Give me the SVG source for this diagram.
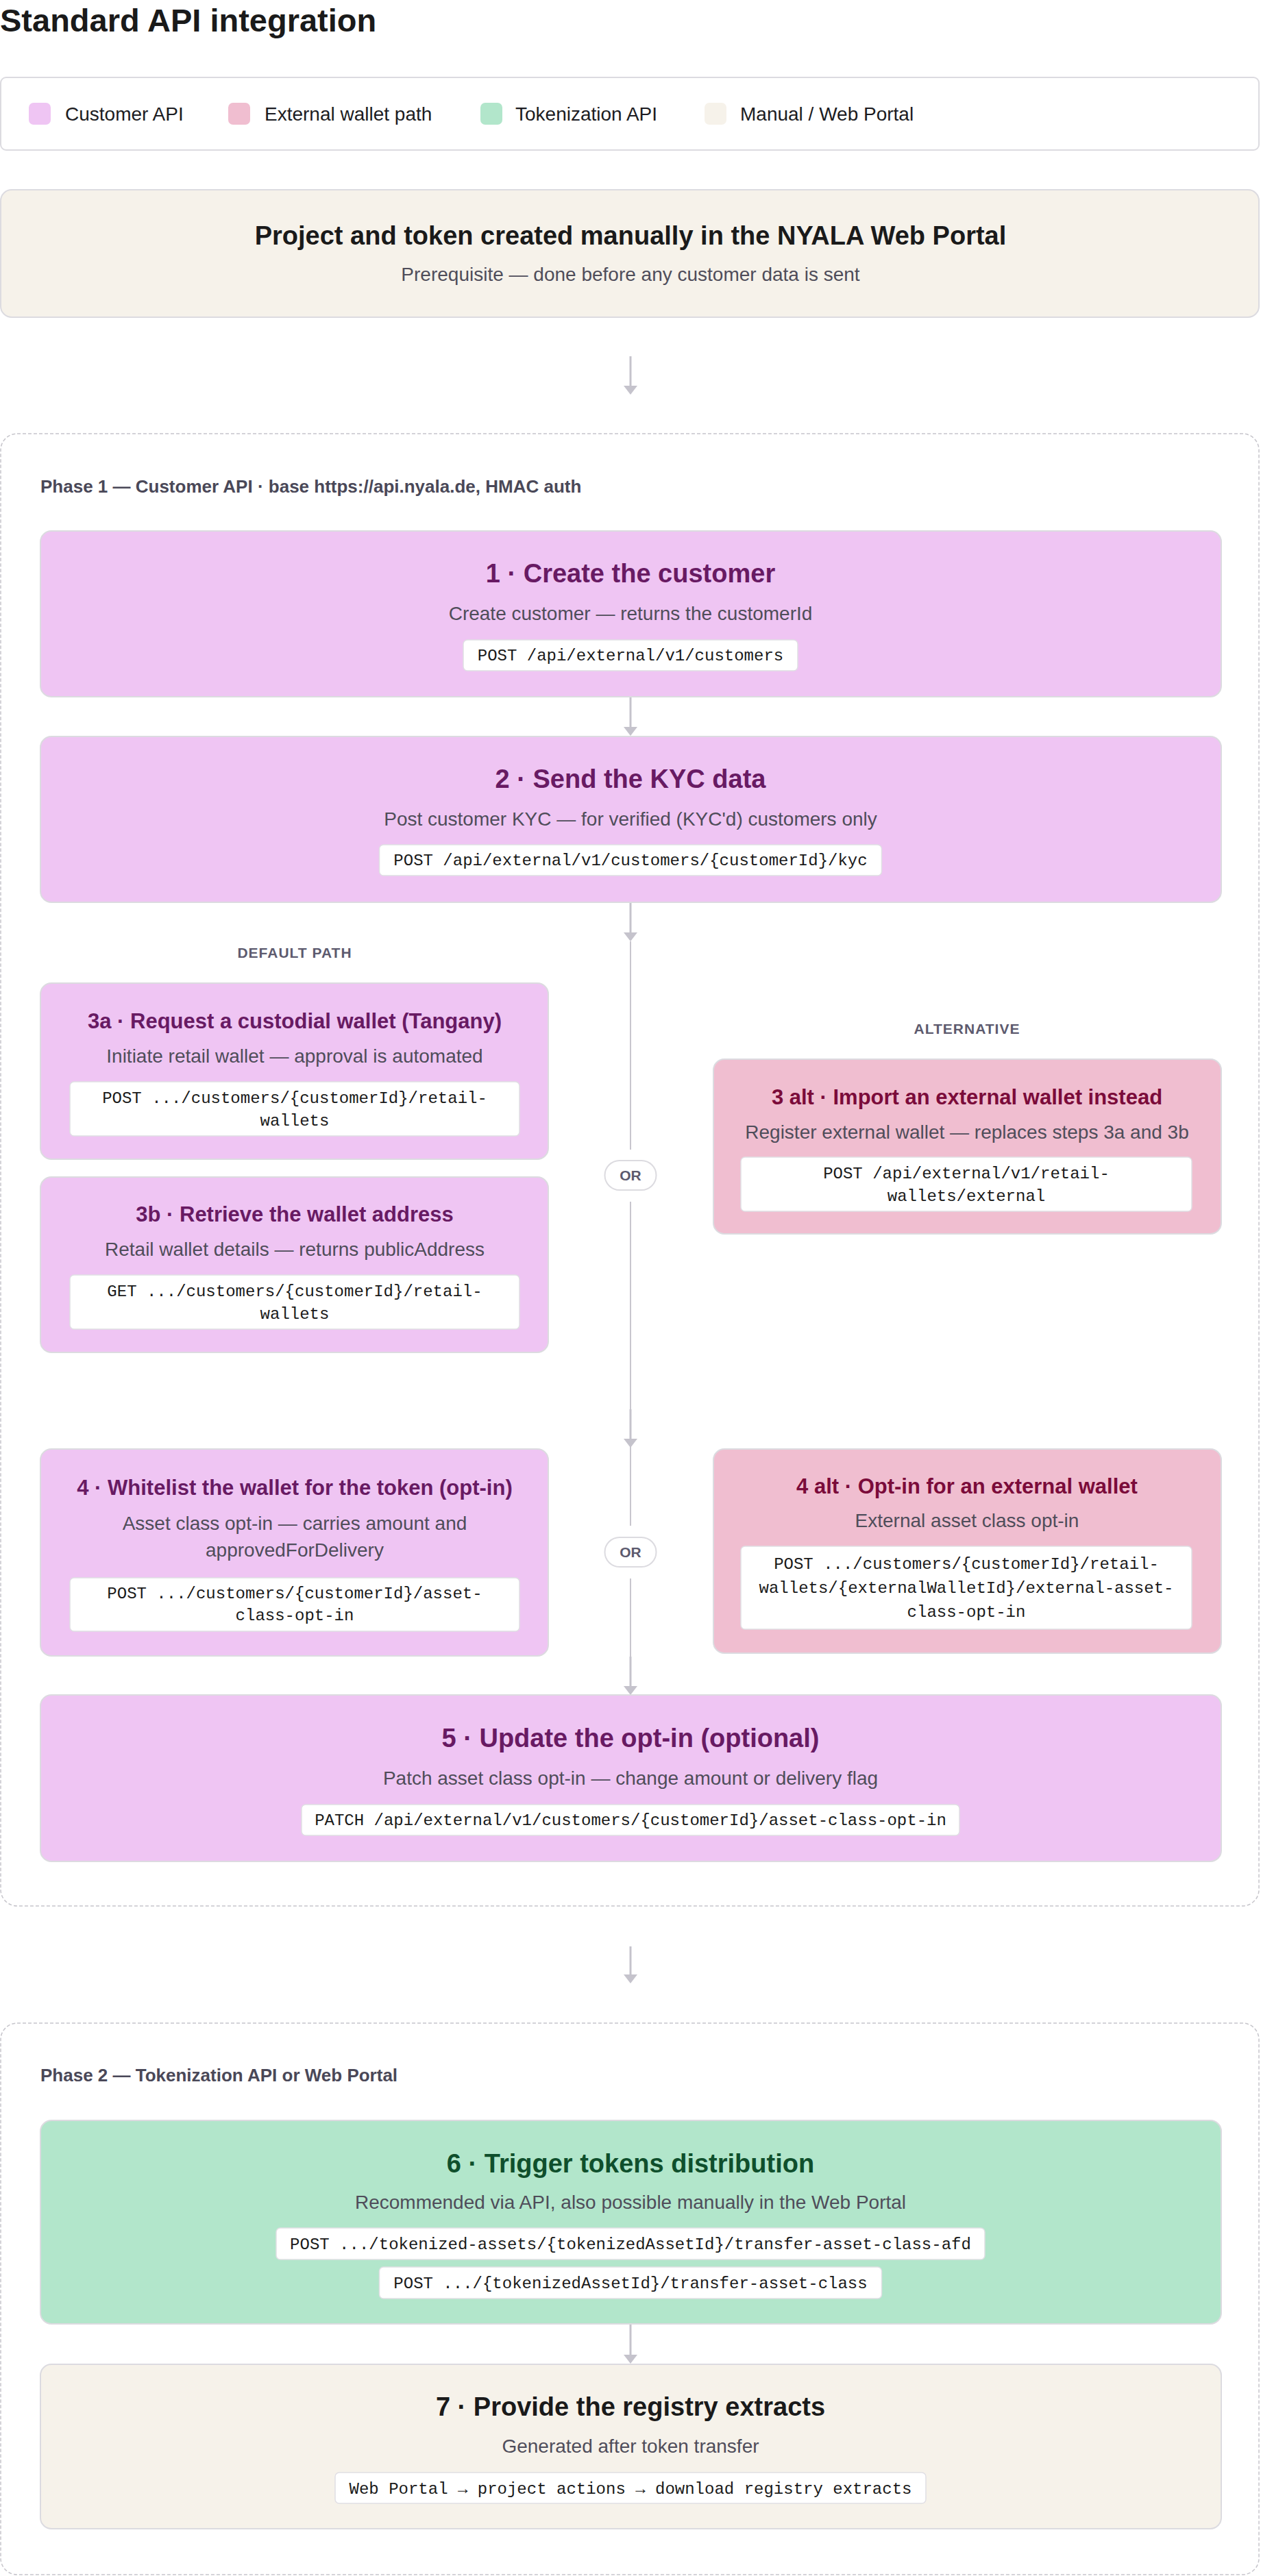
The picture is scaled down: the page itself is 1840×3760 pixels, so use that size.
<svg xmlns="http://www.w3.org/2000/svg" width="1840" height="3760" viewBox="0 0 1840 3760">
<defs>
<style>
text{font-family:"Liberation Sans",Arial,sans-serif}
.h1{font-size:47px;font-weight:700;fill:#1a1a1a}
.leg{font-size:28px;fill:#1c1c22}
.box{stroke:#dcdbe0;stroke-width:2}
.cust{fill:#efc5f3}
.ext{fill:#f0bed0}
.tok{fill:#b2e6cb}
.man{fill:#f6f2ea}
.tb{font-size:38px;font-weight:700;text-anchor:middle}
.ts{font-size:31px;font-weight:700;text-anchor:middle}
.tc{fill:#681a63}
.te{fill:#7b0b3a}
.tg{fill:#0f4f2c}
.tm{fill:#1a1a1a}
.sub{font-size:28px;fill:#4f4d5a;text-anchor:middle}
.code{fill:#ffffff;stroke:#e0dfe4;stroke-width:1.5}
.mono{font-family:"Liberation Mono","DejaVu Sans Mono",monospace;font-size:24px;font-weight:400;fill:#1a1a1a;text-anchor:middle}
.phase{fill:none;stroke:#c6c5cb;stroke-width:1.5;stroke-dasharray:5 3}
.plabel{font-size:26px;font-weight:700;fill:#4a4858}
.cap{font-size:21px;font-weight:700;fill:#5c5a6e;text-anchor:middle;letter-spacing:1px}
.arrow{stroke:#c5c3cc;stroke-width:3;fill:none}
.div{stroke:#c8c6ce;stroke-width:2;fill:none}
.pill{fill:#ffffff;stroke:#dcdbe0;stroke-width:2}
.or{font-size:21px;font-weight:700;fill:#5c5a6e;text-anchor:middle}
</style>
<marker id="ah" markerUnits="userSpaceOnUse" markerWidth="13" markerHeight="20" refX="0" refY="10" orient="auto" viewBox="0 0 13 20">
<path d="M0,0 L13,10 L0,20 z" fill="#c5c3cc"/>
</marker>
</defs>
<rect width="1840" height="3760" fill="#ffffff"/>
<text class="h1" x="0" y="46">Standard API integration</text>

<g id="legend">
<rect x="1" y="113" width="1836" height="106" rx="8" fill="#ffffff" stroke="#dcdbe0" stroke-width="2"/>
<rect x="42" y="150" width="32" height="32" rx="7" class="cust"/>
<text class="leg" x="95" y="176">Customer API</text>
<rect x="333" y="150" width="32" height="32" rx="7" class="ext"/>
<text class="leg" x="386" y="176">External wallet path</text>
<rect x="701" y="150" width="32" height="32" rx="7" class="tok"/>
<text class="leg" x="752" y="176">Tokenization API</text>
<rect x="1028" y="150" width="32" height="32" rx="7" class="man"/>
<text class="leg" x="1080" y="176">Manual / Web Portal</text>
</g>

<g id="prereq">
<rect x="1" y="277" width="1836" height="186" rx="16" class="man box"/>
<text class="tb tm" x="920" y="357">Project and token created manually in the NYALA Web Portal</text>
<text class="sub" x="920" y="410">Prerequisite — done before any customer data is sent</text>
</g>

<g id="phase1">
<rect x="1" y="633" width="1836" height="2149" rx="24" class="phase"/>
<text class="plabel" x="59" y="719">Phase 1 — Customer API · base https://api.nyala.de, HMAC auth</text>
<text class="cap" x="430" y="1398">DEFAULT PATH</text>
<text class="cap" x="1411" y="1509">ALTERNATIVE</text>
</g>

<g id="phase2">
<rect x="1" y="2953" width="1836" height="805" rx="24" class="phase"/>
<text class="plabel" x="59" y="3038">Phase 2 — Tokenization API or Web Portal</text>
</g>

<g id="connectors">
<line class="arrow" x1="920" y1="520" x2="920" y2="563" marker-end="url(#ah)"/>
<line class="arrow" x1="920" y1="1017" x2="920" y2="1061" marker-end="url(#ah)"/>
<line class="arrow" x1="920" y1="1317" x2="920" y2="1361" marker-end="url(#ah)"/>
<line class="div" x1="920" y1="1374" x2="920" y2="1678"/>
<line class="div" x1="920" y1="1754" x2="920" y2="2227"/>
<line class="arrow" x1="920" y1="2057" x2="920" y2="2100" marker-end="url(#ah)"/>
<line class="div" x1="920" y1="2304" x2="920" y2="2420"/>
<line class="arrow" x1="920" y1="2418" x2="920" y2="2461" marker-end="url(#ah)"/>
<line class="arrow" x1="920" y1="2841" x2="920" y2="2882" marker-end="url(#ah)"/>
<line class="arrow" x1="920" y1="3392" x2="920" y2="3437" marker-end="url(#ah)"/>
<g id="or1">
<rect x="882.5" y="1694" width="75" height="43" rx="21.5" class="pill"/>
<text class="or" x="920" y="1723">OR</text>
</g>
<g id="or2">
<rect x="882.5" y="2244" width="75" height="43" rx="21.5" class="pill"/>
<text class="or" x="920" y="2273">OR</text>
</g>
</g>

<g id="step1">
<rect x="59" y="775" width="1723" height="242" rx="16" class="cust box"/>
<text class="tb tc" x="920" y="850">1 · Create the customer</text>
<text class="sub" x="920" y="905">Create customer — returns the customerId</text>
<rect x="676" y="934" width="488" height="45" rx="6" class="code"/>
<text class="mono" x="920" y="964">POST /api/external/v1/customers</text>
</g>

<g id="step2">
<rect x="59" y="1075" width="1723" height="242" rx="16" class="cust box"/>
<text class="tb tc" x="920" y="1150">2 · Send the KYC data</text>
<text class="sub" x="920" y="1205">Post customer KYC — for verified (KYC'd) customers only</text>
<rect x="553.5" y="1233" width="733" height="45" rx="6" class="code"/>
<text class="mono" x="920" y="1263">POST /api/external/v1/customers/{customerId}/kyc</text>
</g>

<g id="step3a">
<rect x="59" y="1435" width="741" height="257" rx="16" class="cust box"/>
<text class="ts tc" x="430" y="1501">3a · Request a custodial wallet (Tangany)</text>
<text class="sub" x="430" y="1551">Initiate retail wallet — approval is automated</text>
<rect x="102" y="1579" width="656" height="79" rx="6" class="code"/>
<text class="mono" x="430" y="1610">POST .../customers/{customerId}/retail-</text>
<text class="mono" x="430" y="1643">wallets</text>
</g>

<g id="step3b">
<rect x="59" y="1718" width="741" height="256" rx="16" class="cust box"/>
<text class="ts tc" x="430" y="1783">3b · Retrieve the wallet address</text>
<text class="sub" x="430" y="1833">Retail wallet details — returns publicAddress</text>
<rect x="102" y="1861" width="656" height="79" rx="6" class="code"/>
<text class="mono" x="430" y="1892">GET .../customers/{customerId}/retail-</text>
<text class="mono" x="430" y="1925">wallets</text>
</g>

<g id="step3alt">
<rect x="1041" y="1546" width="741" height="255" rx="16" class="ext box"/>
<text class="ts te" x="1411" y="1612">3 alt · Import an external wallet instead</text>
<text class="sub" x="1411" y="1662">Register external wallet — replaces steps 3a and 3b</text>
<rect x="1081" y="1689" width="658" height="79" rx="6" class="code"/>
<text class="mono" x="1410" y="1720">POST /api/external/v1/retail-</text>
<text class="mono" x="1410" y="1753">wallets/external</text>
</g>

<g id="step4">
<rect x="59" y="2115" width="741" height="302" rx="16" class="cust box"/>
<text class="ts tc" x="430" y="2182">4 · Whitelist the wallet for the token (opt-in)</text>
<text class="sub" x="430" y="2233">Asset class opt-in — carries amount and</text>
<text class="sub" x="430" y="2272">approvedForDelivery</text>
<rect x="102" y="2303" width="656" height="78" rx="6" class="code"/>
<text class="mono" x="430" y="2333">POST .../customers/{customerId}/asset-</text>
<text class="mono" x="430" y="2365">class-opt-in</text>
</g>

<g id="step4alt">
<rect x="1041" y="2115" width="741" height="298" rx="16" class="ext box"/>
<text class="ts te" x="1411" y="2180">4 alt · Opt-in for an external wallet</text>
<text class="sub" x="1411" y="2229">External asset class opt-in</text>
<rect x="1081" y="2257" width="658" height="121" rx="6" class="code"/>
<text class="mono" x="1410" y="2290">POST .../customers/{customerId}/retail-</text>
<text class="mono" x="1410" y="2325">wallets/{externalWalletId}/external-asset-</text>
<text class="mono" x="1410" y="2360">class-opt-in</text>
</g>

<g id="step5">
<rect x="59" y="2474" width="1723" height="243" rx="16" class="cust box"/>
<text class="tb tc" x="920" y="2550">5 · Update the opt-in (optional)</text>
<text class="sub" x="920" y="2605">Patch asset class opt-in — change amount or delivery flag</text>
<rect x="440" y="2634" width="960" height="45" rx="6" class="code"/>
<text class="mono" x="920" y="2664">PATCH /api/external/v1/customers/{customerId}/asset-class-opt-in</text>
</g>

<g id="step6">
<rect x="59" y="3095" width="1723" height="297" rx="16" class="tok box"/>
<text class="tb tg" x="920" y="3171">6 · Trigger tokens distribution</text>
<text class="sub" x="920" y="3224">Recommended via API, also possible manually in the Web Portal</text>
<rect x="403" y="3252" width="1034" height="46" rx="6" class="code"/>
<text class="mono" x="920" y="3283">POST .../tokenized-assets/{tokenizedAssetId}/transfer-asset-class-afd</text>
<rect x="553.5" y="3309" width="733" height="46" rx="6" class="code"/>
<text class="mono" x="920" y="3340">POST .../{tokenizedAssetId}/transfer-asset-class</text>
</g>

<g id="step7">
<rect x="59" y="3451" width="1723" height="240" rx="16" class="man box"/>
<text class="tb tm" x="920" y="3526">7 · Provide the registry extracts</text>
<text class="sub" x="920" y="3580">Generated after token transfer</text>
<rect x="489" y="3609" width="862" height="45" rx="6" class="code"/>
<text class="mono" x="920" y="3640">Web Portal → project actions → download registry extracts</text>
</g>
</svg>
